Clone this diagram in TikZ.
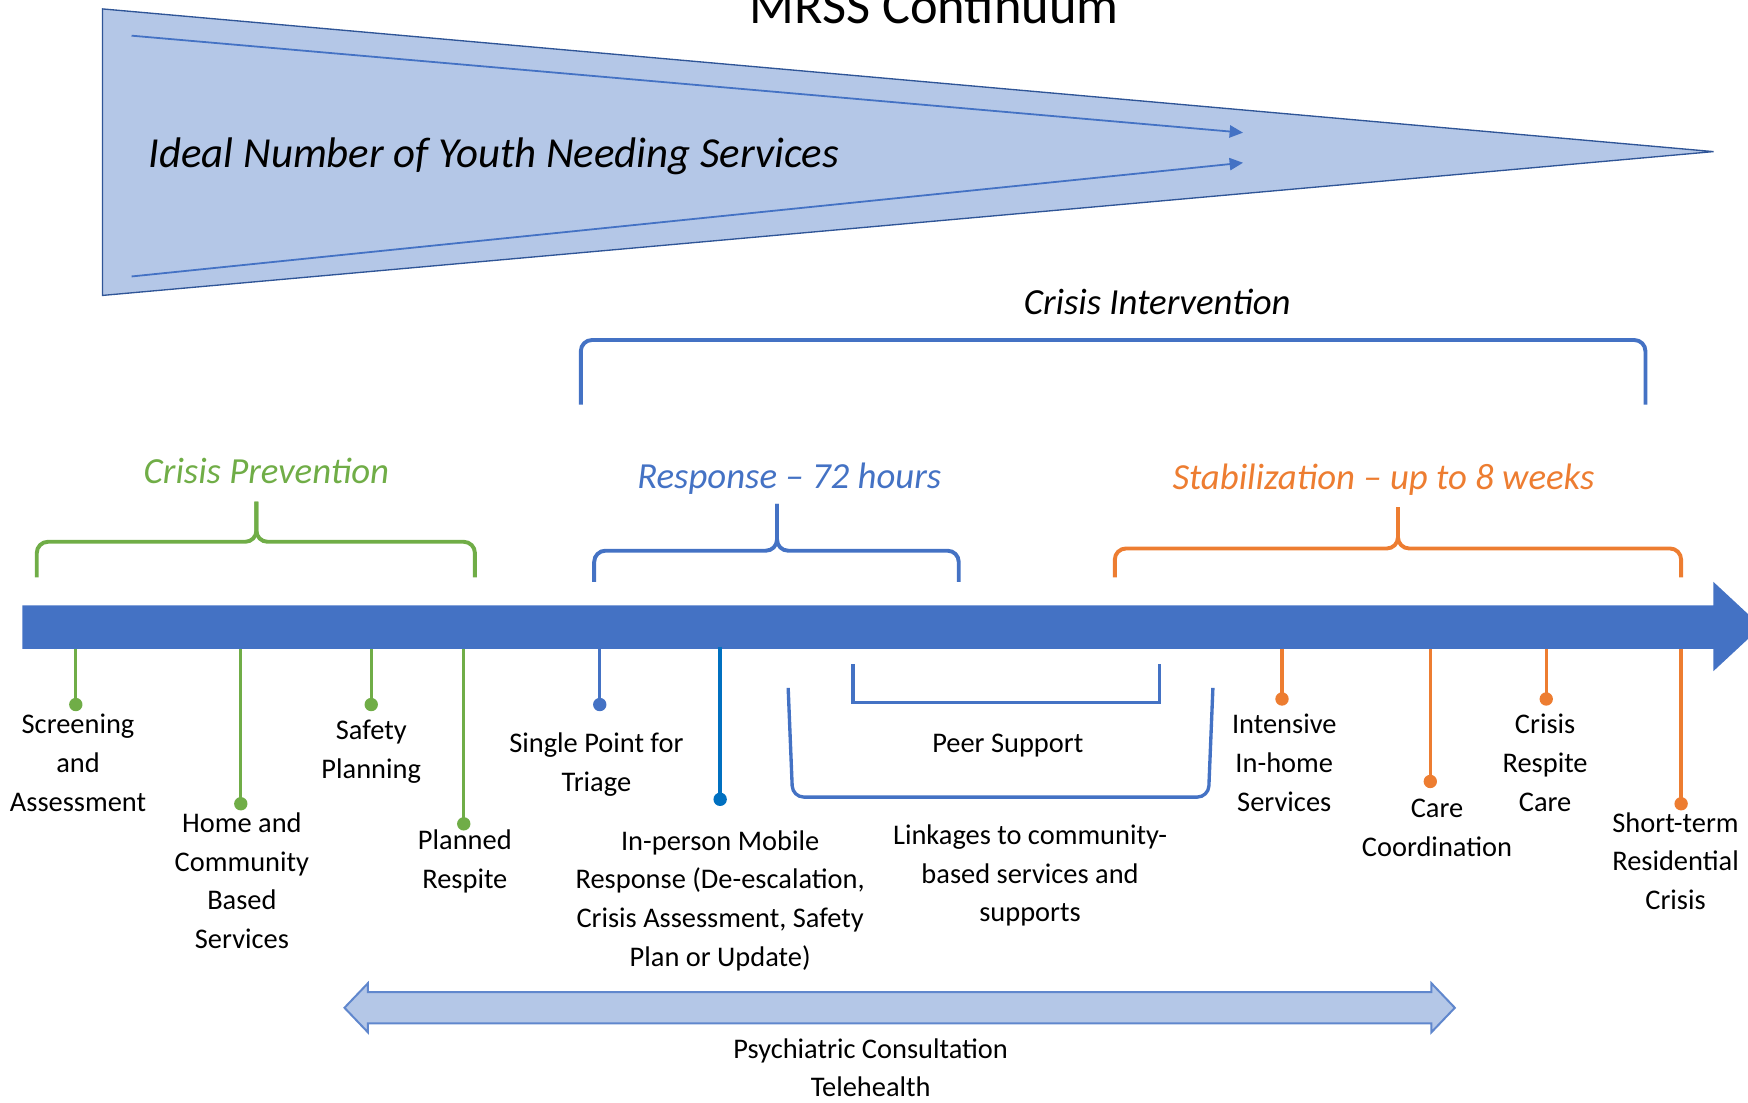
\documentclass[tikz,border=0pt]{standalone}
\usepackage{fontspec}
\setmainfont{Carlito}
\usetikzlibrary{arrows.meta}
\definecolor{cblue}{HTML}{4472C4}
\definecolor{cblue2}{HTML}{0070C0}
\definecolor{cgreen}{HTML}{70AD47}
\definecolor{corange}{HTML}{ED7D31}
\definecolor{clight}{HTML}{B4C7E7}
\definecolor{cedge}{HTML}{2F5597}
\begin{document}
\begin{tikzpicture}[x=0.5pt,y=-0.5pt,
  lbl/.style={font=\fontsize{12.75}{17.4}\selectfont, align=center, anchor=base, inner sep=0pt},
  headlbl/.style={font=\fontsize{16.5}{20}\selectfont\itshape, anchor=base, inner sep=0pt},
  stem/.style={line width=1.5pt},
  dotnode/.style={circle, fill, inner sep=0pt, minimum size=6pt},
  bracebox/.style={line width=1.75pt, rounded corners=5pt},
]
\useasboundingbox (0,0) rectangle (1568,989);

% title
\node[anchor=base, inner sep=0pt, font=\fontsize{23.5}{28}\selectfont] (title) at (838,21) {MRSS Continuum};

% triangle
\draw[fill=clight, draw=cedge, line width=0.6pt] (92,8) -- (1537,136) -- (92,265) -- cycle;
\coordinate (a1s) at (118,32); \coordinate (a1e) at (1115,119);
\coordinate (a2s) at (118,248); \coordinate (a2e) at (1115,146);
\draw[cblue, line width=0.8pt, -{Triangle[length=6pt,width=5.5pt]}] (a1s) -- (a1e);
\draw[cblue, line width=0.8pt, -{Triangle[length=6pt,width=5.5pt]}] (a2s) -- (a2e);
\node[anchor=base west, inner sep=0pt, font=\fontsize{19.2}{22}\selectfont\itshape] (ideal) at (133,150) {Ideal Number of Youth Needing Services};

% crisis intervention
\node[headlbl] (ci) at (1038,282) {Crisis Intervention};
\draw[bracebox, cblue] (521,363) -- (521,305) -- (1476,305) -- (1476,363);

% braces
\node[headlbl, cgreen] (cp) at (239,434) {Crisis Prevention};
\draw[bracebox, cgreen] (33,518) -- (33,486) -- (230,486) -- (230,450);
\draw[bracebox, cgreen] (426,518) -- (426,486) -- (230,486) -- (230,450);

\node[headlbl, cblue] (resp) at (708,438) {Response -- 72 hours};
\draw[bracebox, cblue] (533,522) -- (533,494) -- (697,494) -- (697,452);
\draw[bracebox, cblue] (860,522) -- (860,494) -- (697,494) -- (697,452);

\node[headlbl, corange] (stab) at (1241,439) {Stabilization -- up to 8 weeks};
\draw[bracebox, corange] (1000,518) -- (1000,492) -- (1254,492) -- (1254,455);
\draw[bracebox, corange] (1508,518) -- (1508,492) -- (1254,492) -- (1254,455);

% main arrow
\fill[cblue] (20,543) -- (1537,543) -- (1537,522) -- (1580,562) -- (1537,602) -- (1537,582) -- (20,582) -- cycle;

% green stems
\foreach \n/\x/\y in {g1/68/632, g2/216/721, g3/333/632, g4/416/739}{
  \coordinate (\n t) at (\x,582);
  \node[dotnode, cgreen] (\n) at (\x,\y) {};
  \draw[stem, cgreen] (\n t) -- (\n.center);
}
% blue stems
\coordinate (b1t) at (538,582);
\node[dotnode, cblue] (b1) at (538,632) {};
\draw[stem, cblue] (b1t) -- (b1.center);
\coordinate (b2t) at (646,580);
\node[dotnode, cblue2] (b2) at (646,717) {};
\draw[stem, cblue2] (b2t) -- (b2.center);
% orange stems
\foreach \n/\x/\y in {o1/1150/627, o2/1283/701, o3/1387/627, o4/1508/721}{
  \coordinate (\n t) at (\x,582);
  \node[dotnode, corange] (\n) at (\x,\y) {};
  \draw[stem, corange] (\n t) -- (\n.center);
}

% peer support and linkages brackets
\draw[line width=1.5pt, cblue] (765,596) -- (765,630) -- (1040,630) -- (1040,596);
\draw[line width=1.5pt, cblue, rounded corners=5pt] (707,617) -- (711,715) -- (1084,715) -- (1088,617);

% labels (anchor = baseline of last line)
\node[lbl] (l1) at (70,728) {Screening\\and\\Assessment};
\node[lbl] (l2) at (217,851) {Home and\\Community\\Based\\Services};
\node[lbl] (l3) at (333,698) {Safety\\Planning};
\node[lbl] (l4) at (417,797) {Planned\\Respite};
\node[lbl] (l5) at (535,710) {Single Point for\\Triage};
\node[lbl] (l6) at (646,867) {In-person Mobile\\Response (De-escalation,\\Crisis Assessment, Safety\\Plan or Update)};
\node[lbl] (l7) at (904,675) {Peer Support};
\node[lbl] (l8) at (924,827) {Linkages to community-\\based services and\\supports};
\node[lbl] (l9) at (1152,728) {Intensive\\In-home\\Services};
\node[lbl] (l10) at (1289,768) {Care\\Coordination};
\node[lbl] (l11) at (1386,728) {Crisis\\Respite\\Care};
\node[lbl] (l12) at (1503,816) {Short-term\\Residential\\Crisis};

% double arrow
\draw[fill=clight, draw=cblue!85!white, line width=0.9pt] (309,904) -- (330,882) -- (330,890) -- (1284,890) -- (1284,882) -- (1305,904) -- (1284,926) -- (1284,918) -- (330,918) -- (330,926) -- cycle;
\node[lbl] (l13) at (781,984) {Psychiatric Consultation\\Telehealth};
\end{tikzpicture}
\end{document}
